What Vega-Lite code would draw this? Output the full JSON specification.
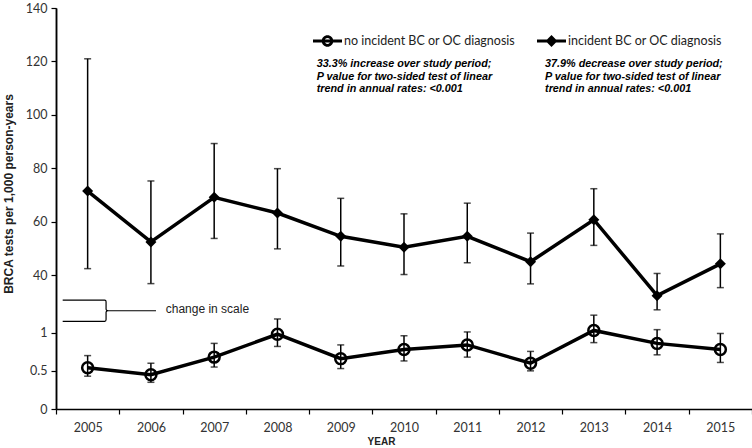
{
  "$schema": "https://vega.github.io/schema/vega-lite/v6.json",
  "width": 696,
  "height": 401,
  "autosize": {"type": "none"},
  "padding": {"left": 56, "top": 8, "right": 0, "bottom": 39},
  "background": "white",
  "config": {"view": {"stroke": null}, "font": "Lato", "axis": {"grid": false}},
  "datasets": {
    "incident": [
      {"year": "2005", "series": "incident BC or OC diagnosis", "rate": 71.5, "lo": 42.5, "hi": 121},
      {"year": "2006", "series": "incident BC or OC diagnosis", "rate": 52.5, "lo": 36.9, "hi": 75.3},
      {"year": "2007", "series": "incident BC or OC diagnosis", "rate": 69.2, "lo": 53.8, "hi": 89.3},
      {"year": "2008", "series": "incident BC or OC diagnosis", "rate": 63.3, "lo": 49.9, "hi": 79.9},
      {"year": "2009", "series": "incident BC or OC diagnosis", "rate": 54.6, "lo": 43.5, "hi": 68.8},
      {"year": "2010", "series": "incident BC or OC diagnosis", "rate": 50.5, "lo": 40.3, "hi": 63.0},
      {"year": "2011", "series": "incident BC or OC diagnosis", "rate": 54.6, "lo": 44.7, "hi": 67.0},
      {"year": "2012", "series": "incident BC or OC diagnosis", "rate": 45.1, "lo": 36.8, "hi": 55.8},
      {"year": "2013", "series": "incident BC or OC diagnosis", "rate": 60.8, "lo": 51.2, "hi": 72.4},
      {"year": "2014", "series": "incident BC or OC diagnosis", "rate": 32.4, "lo": 27.1, "hi": 40.7},
      {"year": "2015", "series": "incident BC or OC diagnosis", "rate": 44.3, "lo": 35.4, "hi": 55.5}
    ],
    "noinc": [
      {"year": "2005", "series": "no incident BC or OC diagnosis", "rate": 0.54, "lo": 0.43, "hi": 0.70},
      {"year": "2006", "series": "no incident BC or OC diagnosis", "rate": 0.45, "lo": 0.35, "hi": 0.60},
      {"year": "2007", "series": "no incident BC or OC diagnosis", "rate": 0.68, "lo": 0.55, "hi": 0.86},
      {"year": "2008", "series": "no incident BC or OC diagnosis", "rate": 0.98, "lo": 0.82, "hi": 1.18},
      {"year": "2009", "series": "no incident BC or OC diagnosis", "rate": 0.66, "lo": 0.53, "hi": 0.84},
      {"year": "2010", "series": "no incident BC or OC diagnosis", "rate": 0.78, "lo": 0.63, "hi": 0.96},
      {"year": "2011", "series": "no incident BC or OC diagnosis", "rate": 0.84, "lo": 0.68, "hi": 1.01},
      {"year": "2012", "series": "no incident BC or OC diagnosis", "rate": 0.60, "lo": 0.50, "hi": 0.755},
      {"year": "2013", "series": "no incident BC or OC diagnosis", "rate": 1.03, "lo": 0.87, "hi": 1.23},
      {"year": "2014", "series": "no incident BC or OC diagnosis", "rate": 0.86, "lo": 0.71, "hi": 1.04},
      {"year": "2015", "series": "no incident BC or OC diagnosis", "rate": 0.78, "lo": 0.61, "hi": 0.99}
    ]
  },
  "encoding": {
    "x": {
      "field": "year", "type": "ordinal",
      "scale": {"type": "band", "domain": ["2005","2006","2007","2008","2009","2010","2011","2012","2013","2014","2015"], "paddingInner": 0, "paddingOuter": 0},
      "axis": {
        "title": "YEAR", "tickBand": "extent", "labelAngle": 0,
        "domainColor": "black", "domainWidth": 1.5, "tickColor": "black", "tickWidth": 1.2, "tickSize": 5,
        "labelFont": "Lato", "labelFontSize": 12.5, "labelColor": "#333", "labelPadding": 7,
        "titleFont": "Liberation Sans", "titleFontSize": 10, "titleFontWeight": "bold", "titleColor": "#222",
        "titleX": 325, "titleY": 32, "titleBaseline": "middle", "titleAlign": "center"
      }
    }
  },
  "layer": [
    {
      "data": {"name": "incident"},
      "encoding": {
        "y": {
          "field": "rate", "type": "quantitative",
          "scale": {"domain": [-10, 140], "nice": false, "zero": false},
          "axis": {
            "orient": "left", "values": [40, 60, 80, 100, 120, 140], "format": "~r",
            "title": "BRCA tests per 1,000 person-years",
            "domainColor": "black", "domainWidth": 1.5, "tickColor": "black", "tickWidth": 1.2, "tickSize": 5,
            "labelFont": "Lato", "labelFontSize": 12.5, "labelColor": "#333", "labelPadding": 4,
            "titleFont": "Liberation Sans", "titleFontSize": 12, "titleFontWeight": "bold", "titleColor": "#222",
            "titleX": -48, "titleY": 185.5, "titleAngle": -90, "titleAlign": "center", "titleBaseline": "middle"
          }
        }
      },
      "layer": [
        {"mark": {"type": "rule", "color": "black", "strokeWidth": 1.5}, "encoding": {"y": {"field": "lo", "type": "quantitative"}, "y2": {"field": "hi"}}},
        {"mark": {"type": "tick", "color": "black", "size": 7, "thickness": 1.5}, "encoding": {"y": {"field": "lo", "type": "quantitative"}}},
        {"mark": {"type": "tick", "color": "black", "size": 7, "thickness": 1.5}, "encoding": {"y": {"field": "hi", "type": "quantitative"}}},
        {"mark": {"type": "line", "color": "black", "strokeWidth": 3.5}},
        {"mark": {"type": "point", "shape": "diamond", "filled": true, "size": 121, "color": "black", "opacity": 1}},
        {
          "transform": [{"filter": "false"}],
          "mark": {"type": "point", "filled": true, "color": "black", "opacity": 1},
          "encoding": {
            "shape": {
              "field": "series", "type": "nominal",
              "scale": {"domain": ["no incident BC or OC diagnosis", "incident BC or OC diagnosis"],
                        "range": ["M-1,-0.11H1V0.11H-1ZM-0.4,0A0.4,0.4 0 1,1 0.4,0A0.4,0.4 0 1,1 -0.4,0ZM-0.2,0A0.2,0.2 0 1,0 0.2,0A0.2,0.2 0 1,0 -0.2,0Z",
                                  "M-1,-0.11H1V0.11H-1ZM0,-0.41L0.41,0L0,0.41L-0.41,0Z"]},
              "legend": {
                "title": null, "orient": "none", "legendX": 257, "legendY": 18.5, "direction": "horizontal",
                "padding": 0, "symbolSize": 841, "symbolFillColor": "black", "symbolStrokeColor": "transparent",
                "symbolStrokeWidth": 0, "symbolOpacity": 1,
                "labelFont": "Lato", "labelFontSize": 12.5, "labelColor": "#222",
                "labelLimit": 400, "labelOffset": 2, "columnPadding": 22
              }
            }
          }
        },
        {
          "transform": [{"filter": "datum.year === '2009'"}],
          "mark": {"type": "text", "align": "left", "baseline": "middle", "font": "Liberation Sans", "fontSize": 10.8, "fontWeight": "bold", "fontStyle": "italic", "lineHeight": 12.5, "color": "black", "dx": -24},
          "encoding": {
            "y": {"datum": 118.9},
            "text": {"value": ["33.3% increase over study period;", "P value for two-sided test of linear", "trend in annual rates: <0.001"]}
          }
        },
        {
          "transform": [{"filter": "datum.year === '2012'"}],
          "mark": {"type": "text", "align": "left", "baseline": "middle", "font": "Liberation Sans", "fontSize": 10.8, "fontWeight": "bold", "fontStyle": "italic", "lineHeight": 12.5, "color": "black", "dx": 14.5},
          "encoding": {
            "y": {"datum": 118.9},
            "text": {"value": ["37.9% decrease over study period;", "P value for two-sided test of linear", "trend in annual rates: <0.001"]}
          }
        }
      ]
    },
    {
      "data": {"name": "noinc"},
      "encoding": {
        "y": {
          "field": "rate", "type": "quantitative",
          "scale": {"domain": [0, 5.256], "nice": false, "zero": false},
          "axis": {
            "orient": "left", "values": [0, 0.5, 1], "format": "~r", "title": null,
            "domainColor": "black", "domainWidth": 1.5, "tickColor": "black", "tickWidth": 1.2, "tickSize": 5,
            "labelFont": "Lato", "labelFontSize": 12.5, "labelColor": "#333", "labelPadding": 4
          }
        }
      },
      "layer": [
        {"mark": {"type": "rule", "color": "black", "strokeWidth": 1.5}, "encoding": {"y": {"field": "lo", "type": "quantitative"}, "y2": {"field": "hi"}}},
        {"mark": {"type": "tick", "color": "black", "size": 7, "thickness": 1.5}, "encoding": {"y": {"field": "lo", "type": "quantitative"}}},
        {"mark": {"type": "tick", "color": "black", "size": 7, "thickness": 1.5}, "encoding": {"y": {"field": "hi", "type": "quantitative"}}},
        {"mark": {"type": "line", "color": "black", "strokeWidth": 3.5}},
        {"mark": {"type": "point", "shape": "circle", "filled": false, "size": 120, "strokeWidth": 2.5, "color": "black", "opacity": 1}},
        {
          "transform": [{"filter": "datum.year === '2005'"}],
          "mark": {"type": "point", "filled": false, "color": "black", "strokeWidth": 1.2, "opacity": 1, "size": 8705, "xOffset": 21.7,
                   "shape": "M-1,-0.228H-0.1Q-0.07,-0.228 -0.07,-0.19V-0.035Q-0.07,0 -0.02,0H1M-0.02,0Q-0.07,0 -0.07,0.035V0.19Q-0.07,0.228 -0.1,0.228H-1"},
          "encoding": {"y": {"datum": 1.288}}
        },
        {
          "transform": [{"filter": "datum.year === '2006'"}],
          "mark": {"type": "text", "align": "left", "baseline": "middle", "font": "Liberation Sans", "fontSize": 12, "color": "#222", "dx": 14.8, "text": "change in scale"},
          "encoding": {"y": {"datum": 1.31}}
        }
      ]
    }
  ],
  "resolve": {"scale": {"y": "independent"}, "axis": {"y": "independent"}}
}
